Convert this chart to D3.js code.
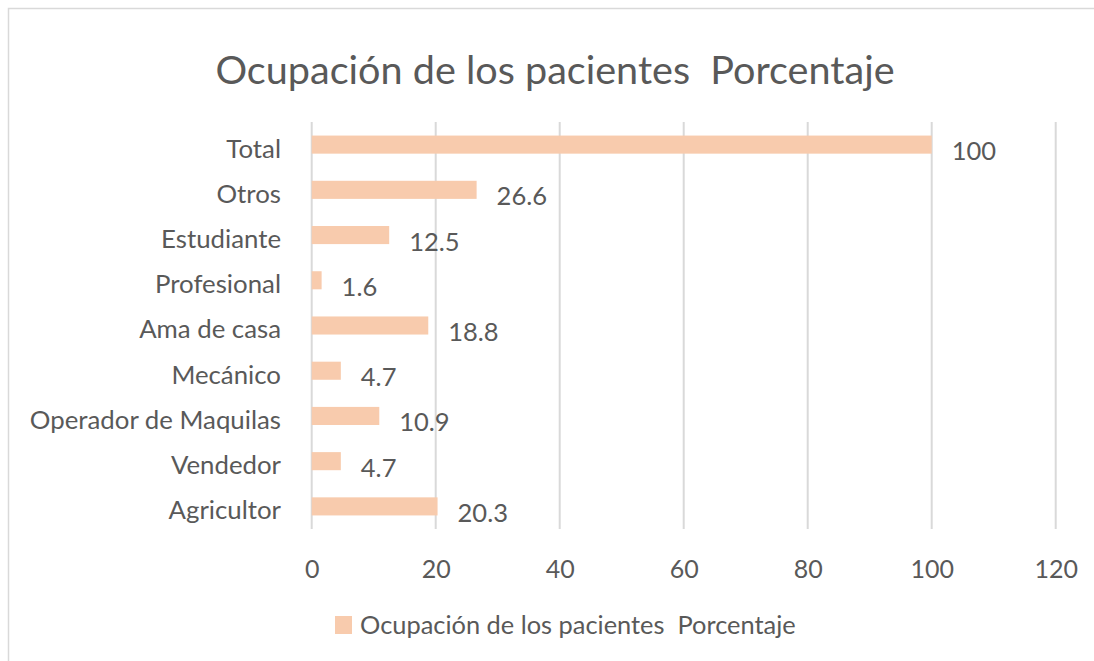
<!DOCTYPE html>
<html><head><meta charset="utf-8">
<script src="https://cdn.jsdelivr.net/npm/d3@7"></script>
<style>
html,body{margin:0;padding:0;background:#fff;}
svg{display:block;}
text{font-family:Lato, "Noto Sans", sans-serif;fill:#595959;}
</style></head>
<body>
<svg id="chart" width="1094" height="661"></svg>
<script>
const categories = ["Total","Otros","Estudiante","Profesional","Ama de casa","Mecánico","Operador de Maquilas","Vendedor","Agricultor"];
const values = [100, 26.6, 12.5, 1.6, 18.8, 4.7, 10.9, 4.7, 20.3];
const valueLabels = ["100","26.6","12.5","1.6","18.8","4.7","10.9","4.7","20.3"];
const xTicks = [0,20,40,60,80,100,120];
const title = "Ocupación de los pacientes  Porcentaje";
const seriesName = "Ocupación de los pacientes  Porcentaje";

const svg = d3.select("#chart");
// outer chart border
svg.append("rect").attr("x",8.5).attr("y",8.5).attr("width",1100).attr("height",700)
  .attr("fill","none").attr("stroke","#d9d9d9").attr("stroke-width",1.5);

const x = d3.scaleLinear().domain([0,120]).range([311.7,1055.7]);
const y = d3.scaleBand().domain(categories).range([122,529]).paddingInner(0.6).paddingOuter(0.3);

// gridlines
svg.append("g").selectAll("line").data(xTicks).join("line")
  .attr("x1",d=>x(d)).attr("x2",d=>x(d)).attr("y1",122).attr("y2",529)
  .attr("stroke","#d9d9d9").attr("stroke-width",2);

// x axis tick labels
const xAxis = d3.axisBottom(x).tickValues(xTicks).tickSize(0).tickPadding(0);
const gx = svg.append("g").attr("transform","translate(0,578)").call(xAxis);
gx.select(".domain").remove();
gx.selectAll("text").attr("dy",0).attr("font-size",25).style("font-family","Lato").attr("fill","#595959");

// y axis category labels
const yAxis = d3.axisLeft(y).tickSize(0).tickPadding(0);
const gy = svg.append("g").attr("transform","translate(281,0)").call(yAxis);
gy.select(".domain").remove();
gy.selectAll("text").attr("dy","0.5em").attr("font-size",25.8).style("font-family","Lato").attr("fill","#595959");

// bars
svg.append("g").selectAll("rect").data(values).join("rect")
  .attr("x",x(0)).attr("y",(d,i)=>y(categories[i]))
  .attr("width",d=>x(d)-x(0)).attr("height",y.bandwidth())
  .attr("fill","#F8CBAD");

// value labels
svg.append("g").selectAll("text").data(values).join("text")
  .attr("x",d=>x(d)+20).attr("y",(d,i)=>y(categories[i])+y.bandwidth()/2+15.5)
  .attr("font-size",25.5).text((d,i)=>valueLabels[i]);

// title
svg.append("text").attr("x",555).attr("y",84).attr("text-anchor","middle")
  .attr("font-size",39.6).style("white-space","pre").text(title);

// legend
svg.append("rect").attr("x",335).attr("y",616).attr("width",17).attr("height",18).attr("fill","#F8CBAD");
svg.append("text").attr("x",360).attr("y",634).attr("font-size",25.4).style("white-space","pre").text(seriesName);
</script>
</body></html>
